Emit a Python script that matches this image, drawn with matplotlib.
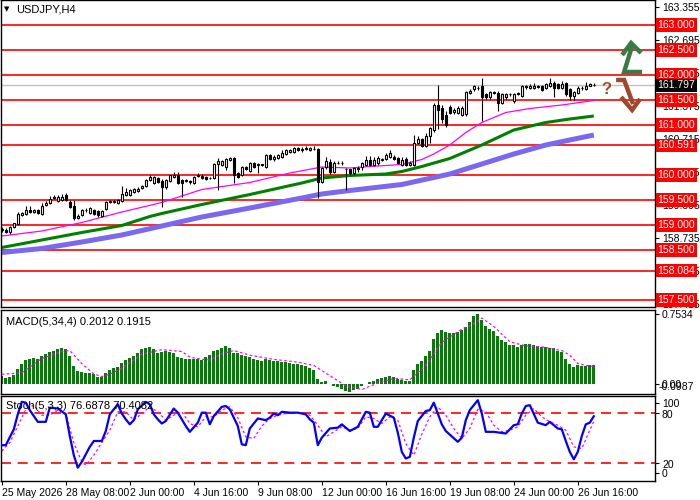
import numpy as np
import matplotlib.pyplot as plt

# USDJPY H4 candles, bar 0 = 25 May 2026 16:00
opens = [158.90, 158.91, 158.86, 158.97, 159.03, 159.21, 159.23, 159.30, 159.27, 159.30,
         159.23, 159.41, 159.45, 159.55, 159.48, 159.50, 159.60, 159.47, 159.38, 159.15,
         159.20, 159.30, 159.25, 159.30, 159.28, 159.19, 159.33, 159.47, 159.48, 159.45,
         159.48, 159.60, 159.61, 159.66, 159.68, 159.75, 159.79, 159.90, 159.85, 159.93,
         159.89, 159.76, 159.89, 159.96, 160.01, 159.91, 159.88, 159.88, 159.85, 159.98,
         159.97, 159.96, 159.94, 159.94, 160.22, 160.21, 160.17, 160.31, 160.34, 160.04,
         160.01, 160.16, 160.09, 160.24, 160.21, 160.20, 160.17, 160.41, 160.32, 160.34,
         160.36, 160.43, 160.46, 160.47, 160.53, 160.50, 160.52, 160.50, 160.53, 160.52,
         159.87, 160.16, 160.27, 160.07, 160.24, 160.24, 160.11, 160.11, 160.04, 160.13,
         160.16, 160.21, 160.31, 160.21, 160.24, 160.31, 160.32, 160.37, 160.37, 160.34,
         160.21, 160.32, 160.21, 160.21, 160.64, 160.71, 160.59, 160.79, 160.90, 161.40,
         161.35, 161.20, 161.36, 161.27, 161.25, 161.21, 161.22, 161.65, 161.72, 161.74,
         161.78, 161.61, 161.55, 161.64, 161.65, 161.45, 161.55, 161.61, 161.48, 161.62,
         161.58, 161.76, 161.75, 161.75, 161.76, 161.78, 161.75, 161.78, 161.85, 161.81,
         161.75, 161.83, 161.71, 161.58, 161.65, 161.74, 161.73, 161.78, 161.80]
highs = [158.96, 158.94, 158.99, 159.05, 159.26, 159.27, 159.38, 159.38, 159.33, 159.32,
         159.45, 159.48, 159.58, 159.61, 159.61, 159.63, 159.64, 159.51, 159.50, 159.22,
         159.33, 159.34, 159.36, 159.32, 159.31, 159.30, 159.49, 159.50, 159.50, 159.52,
         159.78, 159.75, 159.73, 159.75, 159.76, 159.81, 159.93, 160.00, 159.99, 159.96,
         159.92, 159.93, 160.01, 160.07, 160.07, 159.93, 159.92, 159.91, 159.98, 160.05,
         160.02, 159.98, 159.97, 160.25, 160.34, 160.31, 160.35, 160.37, 160.36, 160.07,
         160.19, 160.19, 160.27, 160.26, 160.24, 160.23, 160.43, 160.43, 160.40, 160.43,
         160.50, 160.52, 160.53, 160.56, 160.56, 160.56, 160.58, 160.57, 160.58, 160.55,
         160.17, 160.36, 160.32, 160.29, 160.28, 160.28, 160.15, 160.13, 160.17, 160.19,
         160.27, 160.38, 160.38, 160.36, 160.38, 160.35, 160.45, 160.50, 160.40, 160.37,
         160.36, 160.36, 160.28, 160.81, 160.78, 160.74, 160.85, 160.97, 161.45, 161.80,
         161.40, 161.28, 161.40, 161.34, 161.38, 161.38, 161.68, 161.72, 161.81, 161.78,
         161.95, 161.64, 161.68, 161.69, 161.68, 161.64, 161.64, 161.65, 161.64, 161.67,
         161.80, 161.81, 161.82, 161.85, 161.80, 161.81, 161.85, 161.95, 161.88, 161.85,
         161.88, 161.86, 161.74, 161.69, 161.77, 161.79, 161.86, 161.84, 161.83]
lows = [158.87, 158.84, 158.83, 158.95, 159.01, 159.19, 159.21, 159.24, 159.25, 159.22,
        159.21, 159.38, 159.43, 159.52, 159.46, 159.48, 159.49, 159.35, 159.10, 159.12,
        159.18, 159.27, 159.23, 159.21, 159.17, 159.17, 159.30, 159.45, 159.44, 159.43,
        159.46, 159.58, 159.59, 159.64, 159.66, 159.73, 159.77, 159.88, 159.83, 159.85,
        159.36, 159.73, 159.87, 159.94, 159.83, 159.57, 159.86, 159.83, 159.83, 159.96,
        159.92, 159.91, 159.92, 159.92, 159.71, 160.18, 160.10, 160.29, 159.84, 159.95,
        159.98, 160.10, 160.07, 160.15, 160.04, 160.18, 160.15, 160.30, 160.29, 160.32,
        160.34, 160.41, 160.44, 160.45, 160.48, 160.47, 160.50, 160.48, 160.50, 159.54,
        159.85, 160.13, 160.02, 160.04, 160.22, 160.21, 159.71, 160.01, 160.01, 160.07,
        160.10, 160.18, 160.19, 160.18, 160.21, 160.28, 160.30, 160.35, 160.30, 160.22,
        160.18, 160.19, 160.19, 160.19, 160.61, 160.57, 160.56, 160.64, 160.86, 160.92,
        161.05, 160.96, 161.22, 161.23, 161.22, 161.19, 161.19, 161.62, 161.69, 161.71,
        161.08, 161.52, 161.52, 161.61, 161.28, 161.42, 161.52, 161.58, 161.45, 161.60,
        161.55, 161.73, 161.72, 161.72, 161.74, 161.69, 161.72, 161.76, 161.55, 161.72,
        161.72, 161.58, 161.50, 161.50, 161.62, 161.71, 161.71, 161.77, 161.78]
closes = [158.92, 158.87, 158.97, 159.03, 159.23, 159.24, 159.31, 159.26, 159.30, 159.25,
          159.39, 159.45, 159.53, 159.55, 159.55, 159.55, 159.51, 159.37, 159.15, 159.19,
          159.30, 159.30, 159.33, 159.23, 159.20, 159.28, 159.47, 159.48, 159.47, 159.50,
          159.61, 159.66, 159.70, 159.73, 159.73, 159.79, 159.91, 159.97, 159.96, 159.87,
          159.76, 159.91, 159.99, 160.01, 159.85, 159.85, 159.90, 159.87, 159.96, 160.01,
          159.94, 159.93, 159.94, 160.23, 160.27, 160.29, 160.32, 160.34, 160.01, 159.97,
          160.17, 160.12, 160.25, 160.17, 160.21, 160.21, 160.41, 160.32, 160.37, 160.41,
          160.43, 160.49, 160.51, 160.53, 160.50, 160.52, 160.54, 160.54, 160.52, 159.87,
          160.14, 160.27, 160.07, 160.24, 160.25, 160.24, 160.11, 160.04, 160.14, 160.14,
          160.24, 160.31, 160.21, 160.31, 160.34, 160.31, 160.41, 160.44, 160.32, 160.25,
          160.31, 160.21, 160.25, 160.64, 160.71, 160.59, 160.79, 160.94, 161.41, 161.30,
          161.11, 161.01, 161.25, 161.31, 161.35, 161.35, 161.65, 161.68, 161.78, 161.75,
          161.55, 161.55, 161.65, 161.65, 161.45, 161.61, 161.61, 161.62, 161.61, 161.64,
          161.77, 161.77, 161.78, 161.79, 161.77, 161.71, 161.81, 161.85, 161.75, 161.75,
          161.81, 161.61, 161.59, 161.66, 161.75, 161.75, 161.78, 161.81, 161.80]

# moving averages, read at some bars
fast_bars = [0, 10, 20, 30, 40, 50, 62, 72, 80, 87, 92, 100, 105, 108, 112, 116, 120, 126, 132, 140, 148]
fast_vals = [158.78, 158.88, 159.05, 159.26, 159.45, 159.71, 159.85, 160.04, 160.16, 160.14, 160.17,
             160.21, 160.31, 160.42, 160.60, 160.85, 161.05, 161.25, 161.33, 161.40, 161.49]
mid_bars = [0, 10, 20, 30, 37, 40, 50, 62, 75, 80, 87, 96, 100, 105, 112, 120, 128, 136, 142, 148]
mid_vals = [158.55, 158.70, 158.85, 158.99, 159.17, 159.23, 159.41, 159.61, 159.84, 159.94, 159.99,
            160.02, 160.07, 160.17, 160.33, 160.60, 160.90, 161.05, 161.12, 161.18]
slow_bars = [0, 10, 20, 30, 40, 50, 62, 75, 80, 87, 100, 112, 120, 128, 136, 148]
slow_vals = [158.45, 158.53, 158.66, 158.80, 158.98, 159.16, 159.34, 159.54, 159.62, 159.69,
             159.81, 160.02, 160.22, 160.42, 160.60, 160.80]

# MACD(5,34,4) histogram and signal
macd_hist = [0.086, 0.068, 0.079, 0.097, 0.162, 0.215, 0.258, 0.269, 0.276, 0.269,
             0.300, 0.323, 0.348, 0.359, 0.377, 0.388, 0.377, 0.300, 0.194, 0.140,
             0.129, 0.122, 0.122, 0.104, 0.075, 0.072, 0.122, 0.151, 0.169, 0.180,
             0.223, 0.258, 0.276, 0.300, 0.330, 0.373, 0.384, 0.395, 0.377, 0.337,
             0.348, 0.359, 0.348, 0.330, 0.294, 0.280, 0.273, 0.273, 0.273, 0.269,
             0.258, 0.294, 0.312, 0.359, 0.366, 0.384, 0.409, 0.391, 0.330, 0.330,
             0.310, 0.300, 0.290, 0.270, 0.260, 0.250, 0.270, 0.260, 0.250, 0.250,
             0.240, 0.240, 0.230, 0.220, 0.210, 0.200, 0.190, 0.170, 0.150, 0.050,
             0.020, 0.030, 0.000, -0.020, -0.030, -0.050, -0.080, -0.090, -0.070, -0.050,
             -0.020, 0.000, 0.020, 0.030, 0.050, 0.060, 0.080, 0.090, 0.070, 0.050,
             0.040, 0.030, 0.030, 0.150, 0.220, 0.250, 0.300, 0.360, 0.480, 0.550,
             0.580, 0.560, 0.550, 0.550, 0.560, 0.585, 0.610, 0.670, 0.730, 0.753,
             0.690, 0.630, 0.595, 0.570, 0.515, 0.475, 0.450, 0.415, 0.415, 0.395,
             0.420, 0.430, 0.430, 0.415, 0.405, 0.395, 0.395, 0.385, 0.385, 0.350,
             0.340, 0.270, 0.215, 0.188, 0.205, 0.195, 0.195, 0.201, 0.201]
sig_bars = [0, 5, 10, 15, 17, 20, 23, 25, 27, 30, 35, 40, 45, 47, 50, 52, 55, 58, 62, 68, 74, 78,
            82, 86, 90, 94, 98, 102, 106, 110, 115, 118, 120, 123, 127, 131, 135, 140, 142, 144, 147, 148]
sig_vals = [0.105, 0.120, 0.275, 0.350, 0.360, 0.220, 0.108, 0.080, 0.105, 0.170, 0.320, 0.370,
            0.350, 0.290, 0.265, 0.260, 0.325, 0.360, 0.310, 0.265, 0.235, 0.200,
            0.090, -0.020, -0.060, 0.010, 0.060, 0.045, 0.200, 0.450, 0.590, 0.650, 0.710, 0.620,
            0.455, 0.410, 0.400, 0.360, 0.310, 0.220, 0.190, 0.1915]

# Stochastic(5,3,3)
st_bars = [0, 1, 3, 4, 5, 6, 7, 9, 11, 12, 14, 16, 17, 18, 19, 20, 22, 23, 24, 25, 26, 27, 29, 30,
           31, 32, 33, 34, 36, 37, 38, 39, 40, 41, 43, 44, 46, 47, 49, 50, 51, 52, 53, 55, 56, 57,
           59, 60, 61, 62, 64, 66, 67, 68, 69, 70, 72, 74, 76, 77, 78, 79, 80, 82, 84, 85, 87,
           89, 91, 92, 93, 94, 96, 98, 99, 100, 101, 102, 103, 104, 106, 107, 108, 110, 111, 114,
           115, 116, 117, 119, 120, 121, 123, 126, 128, 129, 130, 131, 132, 134, 136, 137, 139,
           140, 141, 142, 143, 144, 145, 146, 147, 148]
st_main = [42, 42, 61, 79, 94, 93, 84, 70, 70, 87, 86, 79, 53, 30, 15, 22, 40, 47, 47, 47, 59, 79, 91, 80,
           73, 67, 72, 85, 94, 91, 79, 73, 68, 71, 86, 81, 65, 58, 69, 81, 81, 67, 77, 88, 89, 85,
           65, 43, 42, 62, 74, 72, 75, 80, 78, 82, 81, 81, 79, 73, 69, 42, 51, 62, 63, 67, 59,
           64, 82, 81, 64, 64, 80, 75, 57, 34, 26, 28, 51, 71, 83, 84, 93, 67, 59, 46,
           51, 72, 84, 96, 80, 58, 58, 56, 66, 67, 80, 89, 90, 69, 66, 70, 62,
           61, 47, 34, 25, 34, 53, 67, 69, 76.7]
ss_bars = [0, 2, 4, 6, 8, 10, 12, 14, 16, 18, 20, 21, 23, 25, 27, 29, 31, 33, 35, 37, 39, 41, 43, 45,
           47, 49, 51, 53, 55, 57, 59, 61, 63, 65, 67, 69, 71, 73, 75, 77, 79, 81, 83, 85, 87, 89,
           91, 93, 95, 97, 99, 101, 103, 105, 107, 109, 111, 113, 115, 117, 119, 121, 123, 125,
           127, 129, 131, 133, 135, 137, 139, 141, 143, 145, 147, 148]
ss_vals = [35, 45, 65, 85, 90, 78, 78, 84, 80, 45, 22, 18, 30, 45, 60, 82, 82, 72, 80, 88, 82, 72, 78, 82,
           68, 64, 76, 76, 84, 88, 75, 52, 50, 65, 74, 78, 80, 81, 80, 78, 66, 52, 58, 64, 60, 62,
           76, 74, 68, 76, 72, 44, 30, 55, 76, 88, 78, 62, 50, 62, 85, 82, 66, 58,
           60, 64, 78, 86, 76, 70, 66, 60, 40, 38, 60, 70.4]

# levels and labels
levels = [163.0, 162.5, 162.0, 161.5, 161.0, 160.591, 160.0, 159.5, 159.0, 158.5, 158.084, 157.5]
price_ticks = [163.355, 162.695, 162.035, 161.375, 160.715, 160.055, 159.395, 158.735, 158.075, 157.415]
last_price = 161.797
date_ticks = [0, 16, 32, 48, 64, 80, 96, 112, 128, 144]
date_labels = ['25 May 2026', '28 May 08:00', '2 Jun 00:00', '4 Jun 16:00', '9 Jun 08:00',
               '12 Jun 00:00', '16 Jun 16:00', '19 Jun 08:00', '24 Jun 00:00', '26 Jun 16:00']

plt.rcParams['font.family'] = 'Liberation Sans'
plt.rcParams['font.size'] = 7

fig = plt.figure(figsize=(7, 5), dpi=100)
W, H = 700.0, 500.0
ax = fig.add_axes([1 / W, 1 - 307 / H, 654 / W, 307 / H])
ax2 = fig.add_axes([1 / W, 1 - 394 / H, 654 / W, 84 / H])
ax3 = fig.add_axes([1 / W, 1 - 481 / H, 654 / W, 85 / H])

x = np.arange(len(closes))
xlim = (-0.2, 163.3)

# Main panel
for lv in levels:
    ax.axhline(lv, color='red', lw=1.2, zorder=1)
ax.axhline(last_price, color='#c0c0c0', lw=1, zorder=1)
ax.plot(slow_bars, slow_vals, color='#7b68ee', lw=3.6, solid_capstyle='butt', zorder=2)
ax.plot(mid_bars, mid_vals, color='#008000', lw=2.2, solid_capstyle='butt', zorder=2)
ax.plot(fast_bars, fast_vals, color='#ff00ff', lw=0.9, zorder=2)

o = np.array(opens); c = np.array(closes)
ax.vlines(x, lows, highs, color='black', lw=0.8, zorder=3)
up = c >= o
body_lo = np.minimum(o, c)
body_h = np.maximum(np.abs(c - o), 0.006)
ax.bar(x[up], body_h[up], bottom=body_lo[up], width=0.6, color='white', edgecolor='black', lw=0.8, zorder=4)
ax.bar(x[~up], body_h[~up], bottom=body_lo[~up], width=0.6, color='black', edgecolor='black', lw=0.8, zorder=4)

ax.set_xlim(xlim)
ax.set_ylim(157.36, 163.5)
ax.yaxis.tick_right()
ax.set_yticks(price_ticks)
ax.set_yticklabels(['%.3f' % v for v in price_ticks])
ax.set_xticks([])
ax.tick_params(axis='y', length=3, labelsize=7.5, pad=2)

ytr = ax.get_yaxis_transform()
for lv in levels:
    ax.text(1.004, lv, '%.3f' % lv, transform=ytr, ha='left', va='center', fontsize=7.5, color='white',
            bbox=dict(boxstyle='square,pad=0.15', fc='red', ec='none'), zorder=6, clip_on=False)
ax.text(1.004, last_price, '%.3f' % last_price, transform=ytr, ha='left', va='center', fontsize=7.5,
        color='white', bbox=dict(boxstyle='square,pad=0.15', fc='black', ec='none'), zorder=6, clip_on=False)

# signal arrows (pixel positions -> data)
def px(xp, yp):
    return (xp - 1.7) / 4, 163 - (yp - 25) / 50.0

g_line = [px(642, 72), px(624, 72), px(632, 46)]
g_head = [px(622, 55), px(631, 43), px(641, 53)]
b_line = [px(616, 80), px(624, 80), px(633, 104)]
b_head = [px(621, 97), px(632, 110), px(640, 99)]
for pts, col in [(g_line, '#3a7a46'), (g_head, '#3a7a46'), (b_line, '#a0482a'), (b_head, '#a0482a')]:
    xs, ys = zip(*pts)
    ax.plot(xs, ys, color=col, lw=3.2, solid_joinstyle='miter', solid_capstyle='butt', zorder=7)
qx, qy = px(606, 89)
ax.text(qx, qy, '?', color='#a0482a', fontsize=12, fontweight='bold', ha='center', va='center', zorder=7)

fig.text(4 / W, 1 - 9 / H, '\u25bc', fontsize=5, va='center', ha='left', family='DejaVu Sans')
fig.text(16 / W, 1 - 9 / H, 'USDJPY,H4', fontsize=8, va='center', ha='left')

# MACD panel
ax2.bar(x, macd_hist, width=0.75, color='#008000', zorder=2)
ax2.plot(sig_bars, sig_vals, color='#ff00ff', lw=0.9, ls=(0, (2, 2)), zorder=3)
ax2.set_xlim(xlim)
ax2.set_ylim(-0.108, 0.797)
ax2.yaxis.tick_right()
ax2.set_yticks([0.7534, 0.0])
ax2.set_yticklabels(['0.7534', '0.00'])
ax2.set_xticks([])
ax2.tick_params(axis='y', length=3, labelsize=7.5, pad=2)
ax2.text(1.006, -0.03, '-0.0987', transform=ax2.get_yaxis_transform(), fontsize=7.5, va='center', ha='left',
         clip_on=False)
ax2.text(0.008, 0.86, 'MACD(5,34,4) 0.2012 0.1915', transform=ax2.transAxes, fontsize=8, va='center')

# Stochastic panel
ax3.axhline(80, color='red', lw=1.2, ls=(0, (6, 4)), zorder=1)
ax3.axhline(20, color='red', lw=1.2, ls=(0, (6, 4)), zorder=1)
ax3.plot(ss_bars, ss_vals, color='#ff00ff', lw=0.9, ls=(0, (2, 2)), zorder=2)
ax3.plot(st_bars, st_main, color='#0000ff', lw=1.6, zorder=3)
ax3.set_xlim(xlim)
ax3.set_ylim(-1, 101)
ax3.yaxis.tick_right()
ax3.set_yticks([93, 80, 20, 9])
ax3.set_yticklabels(['100', '80', '20', '0'])
ax3.tick_params(axis='y', length=3, labelsize=7.5, pad=2)
ax3.set_xticks(date_ticks)
ax3.set_xticklabels(date_labels, ha='left')
ax3.tick_params(axis='x', length=3, labelsize=7.5, pad=2)
ax3.text(0.008, 0.88, 'Stoch(5,3,3) 76.6878 70.4082', transform=ax3.transAxes, fontsize=8, va='center')

for a in (ax, ax2, ax3):
    for s in a.spines.values():
        s.set_color('black')
        s.set_linewidth(1)

fig.savefig('out.png', dpi=100)
